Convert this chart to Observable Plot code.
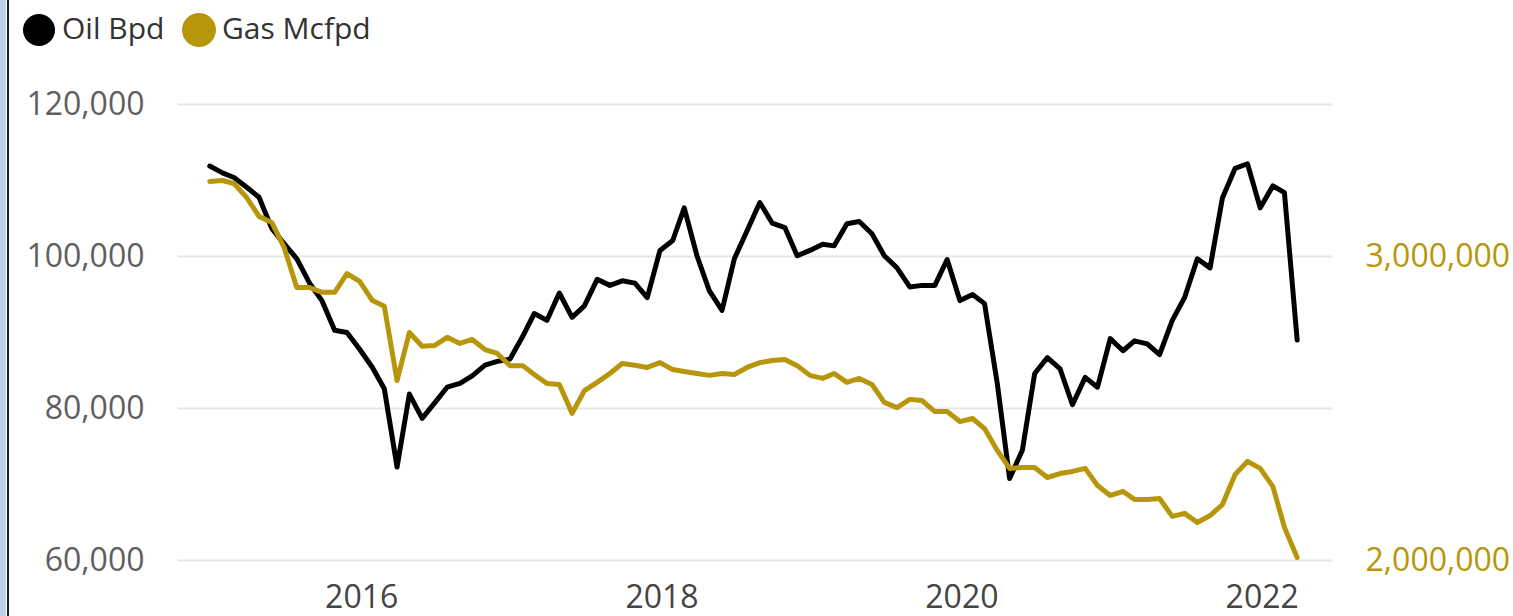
<!DOCTYPE html>
<html>
<head>
<meta charset="utf-8">
<script src="https://cdn.jsdelivr.net/npm/d3@7"></script>
<script src="https://cdn.jsdelivr.net/npm/@observablehq/plot@0.6"></script>
<style>
  html, body { margin: 0; padding: 0; background: #fff; width: 1513px; height: 616px; overflow: hidden; font-family: "Open Sans", sans-serif; }
  #frame { position: relative; width: 1513px; height: 616px; }
  .edge-blue { position: absolute; left: 0; top: 0; width: 6px; height: 616px; background: #c3cfee; }
  .edge-dark { position: absolute; left: 7px; top: 0; width: 2px; height: 616px; background: #1e1e1e; }
  #legend { position: absolute; left: 0; top: 0; width: 600px; height: 58px; }
  .dot { position: absolute; border-radius: 50%; }
  .lbl { position: absolute; font-size: 30px; line-height: 30px; color: #333; white-space: nowrap; }
  #chart { position: absolute; left: 0; top: 58px; }
</style>
</head>
<body>
<div id="frame">
  <div class="edge-blue"></div>
  <div class="edge-dark"></div>
  <div id="legend"></div>
  <div id="chart"></div>
</div>
<script>
// ---- data ----
const seriesNames = ["Oil Bpd", "Gas Mcfpd"];
const seriesColors = ["#000000", "#B8960C"];
const startMonth = "2015-01-01";
const endMonth = "2022-05-01"; // exclusive

const oil = [
  111900, 111000, 110400, 109100, 107800, 103700, 101700, 99700, 96500, 94200, 90300, 90000,
  87800, 85400, 82600, 72300, 81900, 78700, 80700, 82800, 83300, 84300, 85700, 86200,
  86500, 89500, 92500, 91600, 95200, 92000, 93500, 97000, 96200, 96800, 96500, 94600,
  100800, 102100, 106400, 100100, 95500, 92900, 99700, 103400, 107100, 104400, 103800, 100100,
  100800, 101600, 101400, 104300, 104600, 103000, 100100, 98500, 96000, 96200, 96200, 99600,
  94200, 95000, 93800, 83300, 70800, 74500, 84600, 86700, 85200, 80500, 84100, 82800,
  89200, 87600, 88900, 88500, 87100, 91600, 94600, 99700, 98500, 107700, 111600, 112200,
  106400, 109300, 108400, 89000
];

const gas = [
  3247000, 3250000, 3240000, 3194000, 3132000, 3112000, 3030000, 2898000, 2898000, 2882000, 2882000, 2944000,
  2918000, 2855000, 2836000, 2592000, 2750000, 2705000, 2707000, 2734000, 2714000, 2727000, 2694000, 2681000,
  2641000, 2641000, 2612000, 2582000, 2579000, 2484000, 2559000, 2586000, 2615000, 2648000, 2642000, 2635000,
  2651000, 2628000, 2622000, 2615000, 2609000, 2615000, 2612000, 2635000, 2651000, 2658000, 2661000, 2641000,
  2609000, 2599000, 2615000, 2586000, 2599000, 2579000, 2520000, 2503000, 2530000, 2526000, 2490000, 2490000,
  2457000, 2467000, 2434000, 2362000, 2303000, 2306000, 2306000, 2273000, 2286000, 2293000, 2303000, 2247000,
  2214000, 2227000, 2201000, 2201000, 2204000, 2145000, 2155000, 2125000, 2148000, 2184000, 2283000, 2326000,
  2303000, 2243000, 2109000, 2010000
];

const oilTicks = [60000, 80000, 100000, 120000];
const gasTicks = [2000000, 3000000];
const yearTicks = ["2016-01-01", "2018-01-01", "2020-01-01", "2022-01-01"];

// ---- build ----
const months = d3.utcMonth.range(new Date(startMonth), new Date(endMonth));
const rows = months.map((date, i) => ({ date, oil: oil[i], gas: gas[i] }));

// secondary axis aligned with primary: 2,000,000 ↔ 60,000 and 3,000,000 ↔ 100,000
const gasToY = d3.scaleLinear().domain([2000000, 3000000]).range([60000, 100000]);
const fmt = d3.format(",.0f");

// legend
const legend = document.getElementById("legend");
const legendItems = [
  { name: seriesNames[0], color: seriesColors[0], dotLeft: 23, dotSize: 32, textLeft: 62 },
  { name: seriesNames[1], color: seriesColors[1], dotLeft: 182, dotSize: 34, textLeft: 222 }
];
legendItems.forEach(it => {
  const dot = document.createElement("div");
  dot.className = "dot";
  dot.style.left = it.dotLeft + "px";
  dot.style.top = (30 - it.dotSize / 2) + "px";
  dot.style.width = it.dotSize + "px";
  dot.style.height = it.dotSize + "px";
  dot.style.background = it.color;
  legend.appendChild(dot);
  const t = document.createElement("div");
  t.className = "lbl";
  t.style.left = it.textLeft + "px";
  t.style.top = "13px";
  t.textContent = it.name;
  legend.appendChild(t);
});

const chart = Plot.plot({
  width: 1513,
  height: 558,
  marginTop: 46,
  marginBottom: 56,
  marginLeft: 178,
  marginRight: 181,
  style: { fontFamily: '"Open Sans", sans-serif', fontSize: "32px", background: "transparent", overflow: "visible" },
  x: { type: "utc", domain: [new Date(Date.UTC(2014, 9, 17)), new Date(Date.UTC(2022, 5, 26))] },
  y: { domain: [60000, 120000] },
  marks: [
    Plot.gridY(oilTicks, { stroke: "#e6e6e6", strokeOpacity: 1, strokeWidth: 2 }),
    Plot.axisY(oilTicks, { anchor: "left", tickSize: 0, tickPadding: 34, tickFormat: fmt, color: "#5f5f5f", label: null }),
    Plot.axisY(gasTicks.map(g => gasToY(g)), { anchor: "right", tickSize: 0, tickPadding: 33, tickFormat: d => fmt(gasToY.invert(d)), color: seriesColors[1], label: null }),
    Plot.axisX(yearTicks.map(s => new Date(s)), { anchor: "bottom", tickSize: 0, tickPadding: 25, dx: 2, tickFormat: d3.utcFormat("%Y"), color: "#444", label: null }),
    Plot.lineY(rows, { x: "date", y: "oil", stroke: seriesColors[0], strokeWidth: 5, strokeLinejoin: "round" }),
    Plot.lineY(rows, { x: "date", y: d => gasToY(d.gas), stroke: seriesColors[1], strokeWidth: 5, strokeLinejoin: "round" })
  ]
});
document.getElementById("chart").appendChild(chart);
</script>
</body>
</html>
